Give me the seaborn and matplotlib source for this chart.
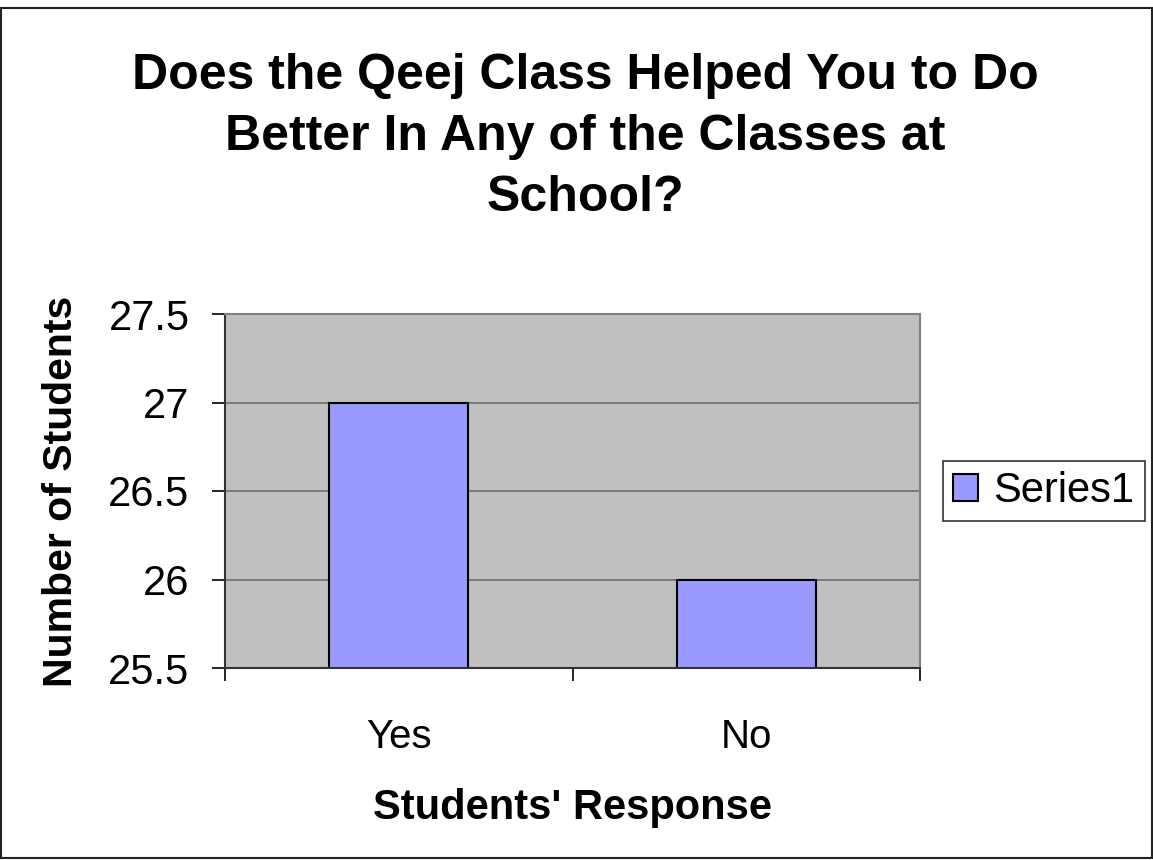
import matplotlib
matplotlib.use("Agg")
import matplotlib.pyplot as plt
import seaborn as sns
import pandas as pd
from matplotlib.ticker import FixedLocator, MultipleLocator

categories = ["Yes", "No"]
values = [27, 26]
series_name = "Series1"
title = "Does the Qeej Class Helped You to Do\nBetter In Any of the Classes at\nSchool?"
xlabel = "Students' Response"
ylabel = "Number of Students"

sns.set_theme(style="white")
plt.rcParams['font.family'] = ['Liberation Sans', 'DejaVu Sans']
plt.rcParams.update({"text.color": "black", "axes.labelcolor": "black",
                     "xtick.color": "black", "ytick.color": "black"})

df = pd.DataFrame({"cat": categories, "val": values, "series": [series_name] * len(categories)})

W, H = 1153, 860
fig = plt.figure(figsize=(W / 100, H / 100), dpi=100)
fig.patch.set_facecolor("white")
ax = fig.add_axes([225 / W, 1 - 668 / H, 695 / W, 354 / H])
ax.set_facecolor("#C0C0C0")

sns.barplot(data=df, x="cat", y="val", hue="series", palette=["#9999FF"], saturation=1,
            edgecolor="black", linewidth=1.5, width=0.4, ax=ax, legend=True)

ax.set_ylim(25.5, 27.5)
ax.set_xlim(-0.5, 1.5)
ax.yaxis.set_major_locator(MultipleLocator(0.5))
ax.yaxis.set_major_formatter(matplotlib.ticker.FuncFormatter(lambda v, p: f"{v:g}"))
ax.grid(axis="y", color="#6E6E6E", linewidth=1.2)
ax.set_axisbelow(True)

# x ticks: boundaries as major ticks, labels on minor ticks
ax.xaxis.set_major_locator(FixedLocator([-0.5, 0.5, 1.5]))
ax.xaxis.set_major_formatter(matplotlib.ticker.NullFormatter())
ax.xaxis.set_minor_locator(FixedLocator([0, 1]))
ax.xaxis.set_minor_formatter(matplotlib.ticker.FixedFormatter(categories))
ax.tick_params(axis="x", which="major", direction="out", length=9.5, width=1.2, color="black", bottom=True)
ax.tick_params(axis="x", which="minor", length=0, pad=36, labelsize=29, bottom=True)
ax.tick_params(axis="y", which="major", direction="out", length=9.5, width=1.2, color="black",
               left=True, pad=16, labelsize=30)

for side in ["top", "right"]:
    ax.spines[side].set_color("#808080")
    ax.spines[side].set_linewidth(1.5)
    ax.spines[side].set_visible(True)
for side in ["left", "bottom"]:
    ax.spines[side].set_color("#333333")
    ax.spines[side].set_linewidth(1.5)

ax.set_xlabel(xlabel, fontsize=30, fontweight="bold")
ax.set_ylabel(ylabel, fontsize=29.5, fontweight="bold")
ax.xaxis.set_label_coords(0.5, (668 - 788) / 354)
ax.yaxis.set_label_coords((80 - 225) / 695, 0.5)

fig.text(585 / W, 1 - 137 / H, title, ha="center", va="center", fontsize=36,
         fontweight="bold", linespacing=1.41)

leg = ax.legend(loc="center left", bbox_to_anchor=(943 / W, 1 - 491 / H),
                bbox_transform=fig.transFigure, frameon=True, fancybox=False,
                fontsize=30, handlelength=0.6, handleheight=0.6, handletextpad=0.36,
                borderpad=0.25, borderaxespad=0, title=None)
leg.get_frame().set_edgecolor("black")
leg.get_frame().set_linewidth(1.2)

# chart-area border (top edge sits a few pixels below the image top)
fig.patches.append(matplotlib.patches.Rectangle((1 / W, 2 / H), (W - 2) / W, (H - 10) / H,
                   transform=fig.transFigure, fill=False, edgecolor="#222222", linewidth=1.5))

fig.savefig("out.png", dpi=100)
